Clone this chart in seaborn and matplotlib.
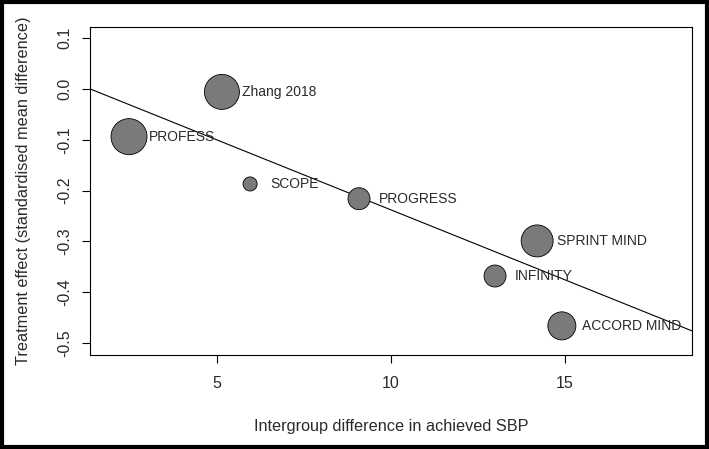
import numpy as np
import pandas as pd
import seaborn as sns
import matplotlib.pyplot as plt
from matplotlib.patches import Rectangle

# Datos de la meta-regresión
estudios = ['PROFESS', 'Zhang 2018', 'SCOPE', 'PROGRESS', 'SPRINT MIND', 'INFINITY', 'ACCORD MIND']
dif_pas = [2.47, 5.14, 5.95, 9.08, 14.2, 12.99, 14.91]
efecto = [-0.094, -0.006, -0.187, -0.216, -0.299, -0.368, -0.466]
peso = [23.6, 22.3, 3.6, 8.8, 18.6, 8.8, 14.3]

# Recta de regresión
intercepto = 0.037
pendiente = -0.0275

x_ticks = [5, 10, 15]
y_ticks = [0.1, 0.0, -0.1, -0.2, -0.3, -0.4, -0.5]

df = pd.DataFrame({'estudio': estudios, 'x': dif_pas, 'y': efecto, 'peso': peso})

sns.set_style('white')
plt.rcParams['font.family'] = ['Liberation Sans', 'DejaVu Sans']

fig = plt.figure(figsize=(7.09, 4.49), dpi=100)
ax = fig.add_axes([0.127, 0.209, 0.849, 0.731])

xlim = (1.35, 18.65)
ylim = (-0.5236, 0.1217)

# Recta
xs = np.array(xlim)
ax.plot(xs, intercepto + pendiente * xs, color='black', lw=0.8, zorder=1)

# Burbujas
sns.scatterplot(data=df, x='x', y='y', size='peso', sizes=(0, 672),
                size_norm=(0, max(peso)), color='#7a7a7a', edgecolor='black',
                linewidth=0.6, alpha=1, legend=False, ax=ax, zorder=2)

for _, r in df.iterrows():
    ax.annotate(r['estudio'], (r['x'], r['y']), xytext=(14.4, 0),
                textcoords='offset points', ha='left', va='center',
                fontsize=10, color='#2a2a2a', zorder=3)

ax.set_xlim(xlim)
ax.set_ylim(ylim)
ax.set_xticks(x_ticks)
ax.set_yticks(y_ticks)
ax.set_yticklabels([f'{v:.1f}' for v in y_ticks], rotation=90, va='center')
ax.tick_params(axis='both', direction='out', length=6, width=0.8,
               labelsize=11.5, color='black', labelcolor='#2a2a2a',
               left=True, bottom=True)
ax.tick_params(axis='x', pad=9)
ax.tick_params(axis='y', pad=7)

for s in ax.spines.values():
    s.set_visible(True)
    s.set_color('black')
    s.set_linewidth(0.8)

ax.set_xlabel('Intergroup difference in achieved SBP', fontsize=11.7,
              color='#2a2a2a', labelpad=20)
ax.set_ylabel('Treatment effect (standardised mean difference)', fontsize=11.7,
              color='#2a2a2a', labelpad=19)

# Marco exterior
fig.patches.append(Rectangle((0.003, 0.004), 0.994, 0.992, transform=fig.transFigure,
                             fill=False, edgecolor='black', linewidth=3))

fig.savefig('out.png', dpi=100)
